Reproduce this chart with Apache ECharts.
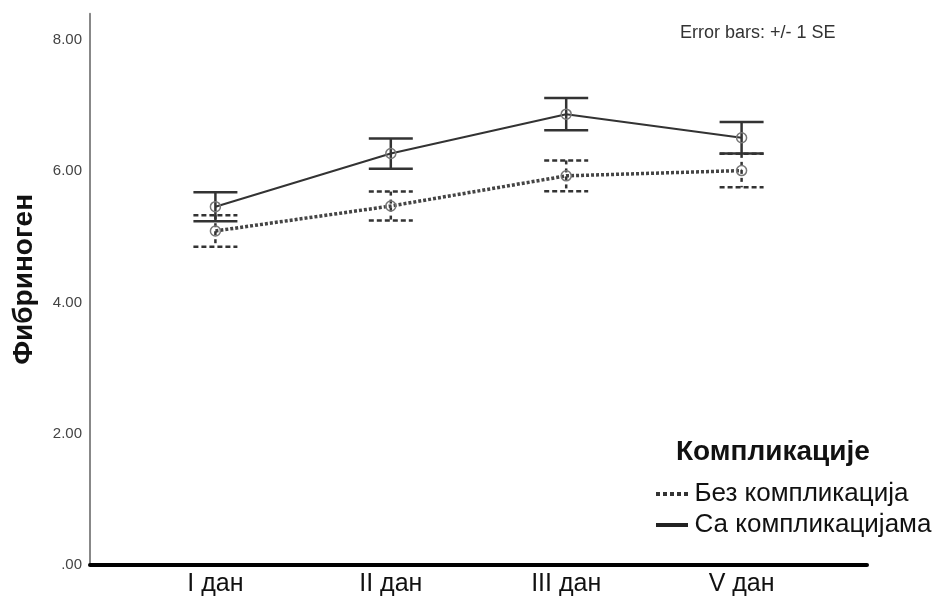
<!DOCTYPE html>
<html><head><meta charset="utf-8">
<script src="https://cdn.jsdelivr.net/npm/echarts@6/dist/echarts.min.js"></script>
<style>html,body{margin:0;padding:0;background:#fff}#c{width:939px;height:600px}</style>
</head><body><div id="c"></div>
<script>
var categories = ['I дан', 'II дан', 'III дан', 'V дан'];
var seriesNames = ['Без компликација', 'Са компликацијама'];
var meanWithout = [5.09, 5.47, 5.93, 6.01];
var seWithout = [0.24, 0.22, 0.235, 0.255];
var meanWith = [5.46, 6.27, 6.87, 6.51];
var seWith = [0.22, 0.23, 0.245, 0.24];
var yTicks = [0, 2, 4, 6, 8];
var legendTitle = 'Компликације';
var yTitle = 'Фибриноген';
var noteText = 'Error bars: +/- 1 SE';

var FONT = 'Liberation Sans, Arial, sans-serif';
function pts(means) { return means.map(function (m, i) { return [i, m]; }); }
function errData(means, ses) { return means.map(function (m, i) { return [i, m, ses[i]]; }); }

function makeErr(dashed, color) {
  return function (params, api) {
    var x = api.value(0), m = api.value(1), s = api.value(2);
    var top = api.coord([x, m + s]);
    var bot = api.coord([x, m - s]);
    var mid = api.coord([x, m]);
    var hw = 22;
    var ls = { stroke: color, lineWidth: 2.5, lineDash: dashed ? [5, 3] : null };
    return {
      type: 'group',
      children: [
        { type: 'line', shape: { x1: top[0], y1: top[1], x2: bot[0], y2: bot[1] }, style: { stroke: color, lineWidth: 2.5, lineDash: dashed ? [4, 4] : null } },
        { type: 'line', shape: { x1: top[0] - hw, y1: top[1], x2: top[0] + hw, y2: top[1] }, style: ls },
        { type: 'line', shape: { x1: bot[0] - hw, y1: bot[1], x2: bot[0] + hw, y2: bot[1] }, style: ls },
        { type: 'circle', shape: { cx: mid[0], cy: mid[1], r: 5 }, style: { fill: 'rgba(255,255,255,0)', stroke: '#777', lineWidth: 1.5 } }
      ]
    };
  };
}

var dottedIcon = 'path://M0,0h4v4h-4z M7,0h4v4h-4z M14,0h4v4h-4z M21,0h4v4h-4z M28,0h4v4h-4z';
var solidIcon = 'path://M0,0h32v4h-32z';

var chart = echarts.init(document.getElementById('c'));
chart.setOption({
  animation: false,
  backgroundColor: '#fff',
  title: [
    { text: legendTitle, left: 676, top: 438, padding: 0, textStyle: { fontFamily: FONT, fontSize: 28, fontWeight: 'bold', color: '#111' } },
    { text: noteText, left: 680, top: 24, padding: 0, textStyle: { fontFamily: FONT, fontSize: 18, fontWeight: 'normal', color: '#333' } }
  ],
  legend: {
    orient: 'vertical', left: 656, top: 481, padding: 0, itemWidth: 33, itemHeight: 4, itemGap: 5,
    textStyle: { fontFamily: FONT, fontSize: 26, lineHeight: 26, color: '#111', padding: [0, 0, 0, 1] },
    data: [
      { name: seriesNames[0], icon: dottedIcon },
      { name: seriesNames[1], icon: solidIcon }
    ]
  },
  grid: { left: 90, right: 72, top: 13.75, bottom: 35 },
  xAxis: {
    type: 'value', min: -0.715, max: 3.715,
    splitLine: { show: false },
    axisLine: { show: true, lineStyle: { color: '#000', width: 4 } },
    axisTick: { show: false },
    axisLabel: {
      customValues: [0, 1, 2, 3], margin: 7,
      formatter: function (v) { return categories[Math.round(v)]; },
      fontFamily: FONT, fontSize: 25, color: '#111'
    }
  },
  yAxis: {
    type: 'value', min: 0, max: 8.4,
    name: yTitle, nameLocation: 'middle', nameGap: 52, nameRotate: 90,
    nameTextStyle: { fontFamily: FONT, fontSize: 28, fontWeight: 'bold', color: '#111', padding: [0, 0, 0, 20] },
    splitLine: { show: false },
    axisLine: { show: true, onZero: false, lineStyle: { color: '#888', width: 2 } },
    axisTick: { show: false },
    axisLabel: {
      customValues: yTicks, margin: 8,
      formatter: function (v) { return v === 0 ? '.00' : v.toFixed(2); },
      fontFamily: FONT, fontSize: 15, color: '#444'
    }
  },
  series: [
    { name: seriesNames[0], type: 'line', data: pts(meanWithout), symbol: 'none', z: 2,
      lineStyle: { color: '#444', width: 3.5, type: [3, 2] }, itemStyle: { color: '#333' } },
    { name: seriesNames[1], type: 'line', data: pts(meanWith), symbol: 'none', z: 2,
      lineStyle: { color: '#333', width: 2, type: 'solid' }, itemStyle: { color: '#222' } },
    { type: 'custom', data: errData(meanWithout, seWithout), renderItem: makeErr(true, '#333'), z: 3, silent: true },
    { type: 'custom', data: errData(meanWith, seWith), renderItem: makeErr(false, '#333'), z: 3, silent: true }
  ]
});
</script></body></html>
